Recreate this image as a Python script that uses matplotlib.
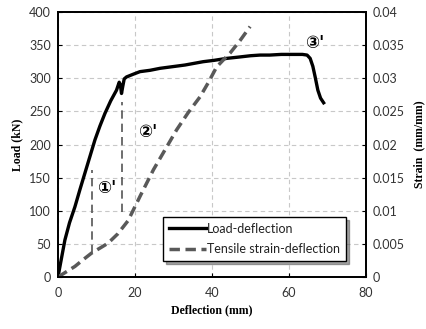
import matplotlib
matplotlib.use("Agg")
import matplotlib.pyplot as plt

# Load-deflection curve (left axis, kN)
load_defl = [0, 0.8, 1.8, 3.0, 4.4, 5.7, 7.0, 8.3, 9.6, 10.9, 12.2, 13.7, 15.2, 15.9,
             16.2, 16.5, 16.8, 17.2, 17.8, 19.5, 21.3, 23.9, 26.5, 29.1, 33.0, 37.7,
             40.5, 43.8, 47.0, 50.0, 52.5, 55.0, 58.0, 61.0, 63.5, 64.7, 65.5,
             66.2, 66.8, 67.5, 68.2, 69.0]
load_kn = [0, 25, 56, 82, 106, 132, 157, 182, 207, 228, 247, 266, 282, 294,
           290, 277, 287, 299, 302, 306, 310, 312, 315, 317, 320, 325,
           327, 330, 332, 334, 335, 335, 336, 336, 336, 335, 330,
           318, 302, 282, 270, 263]

# Tensile strain-deflection curve (right axis, mm/mm)
strain_defl = [0, 2.2, 4.4, 6.5, 8.7, 11.0, 13.0, 15.5, 18.2, 21.5, 24.8, 27.8,
               30.8, 33.8, 36.9, 39.0, 41.2, 43.0, 44.7, 47.3, 49.9]
strain = [0, 0.0008, 0.0016, 0.0026, 0.0036, 0.0044, 0.0051, 0.0065, 0.0085,
          0.0124, 0.0162, 0.0192, 0.0222, 0.0248, 0.0272, 0.0293, 0.0317,
          0.0328, 0.0338, 0.0357, 0.0378]

# Guide lines for stages (deflection, load from, load to)
guide_x = [8.9, 16.5]
guide_top = [161, 264]
guide_bot = [36, 98]

labels = ["\u2460'", "\u2461'", "\u2462'"]
label_x = [12.7, 23.3, 66.6]
label_y = [134, 219, 353]

fig = plt.figure(figsize=(4.27, 3.29), dpi=100)
ax = fig.add_axes([0.1358, 0.158, 0.7213, 0.8055])
ax2 = ax.twinx()

tick_font = "Lato"
lab_font = "Liberation Serif"

ax.grid(True, color="#c8c8c8", linestyle=(0, (4, 3)), linewidth=0.8)
ax.set_axisbelow(True)

for gx, gt, gb in zip(guide_x, guide_top, guide_bot):
    ax.plot([gx, gx], [gb, gt], color="#555555", linestyle=(0, (5, 3)), linewidth=1.2)

ln1, = ax.plot(load_defl, load_kn, color="black", linewidth=2.4, solid_joinstyle="round",
               label="Load-deflection")
ln2, = ax2.plot(strain_defl, strain, color="#595959", linewidth=2.5,
                linestyle=(0, (3.0, 1.6)), label="Tensile strain-deflection")

for t, lx, ly in zip(labels, label_x, label_y):
    ax.text(lx, ly, t, fontsize=12, fontweight="bold", family=["DejaVu Sans"],
            ha="center", va="center")

ax.set_xlim(0, 80)
ax.set_ylim(0, 400)
ax2.set_ylim(0, 0.04)
ax.set_xticks([0, 20, 40, 60, 80])
ax.set_yticks(range(0, 401, 50))
ax2.set_yticks([0, 0.005, 0.01, 0.015, 0.02, 0.025, 0.03, 0.035, 0.04])
ax2.set_yticklabels(["0", "0.005", "0.01", "0.015", "0.02", "0.025", "0.03", "0.035", "0.04"])

for a in (ax, ax2):
    for s in a.spines.values():
        s.set_linewidth(1.3)
    a.tick_params(direction="in", length=3, width=0.8, labelsize=9, pad=5)
    for lb in a.get_xticklabels() + a.get_yticklabels():
        lb.set_fontfamily(tick_font)
        lb.set_color("#333333")
ax.tick_params(axis="x", pad=7)

ax.set_xlabel("Deflection (mm)", fontsize=8.5, fontweight="bold", family=lab_font, labelpad=4)
ax.set_ylabel("Load (kN)", fontsize=8.5, fontweight="bold", family=lab_font, labelpad=4)
ax2.set_ylabel("Strain  (mm/mm)", fontsize=8.5, fontweight="bold", family=lab_font, labelpad=6)

leg = ax.legend(handles=[ln1, ln2], loc="lower right", bbox_to_anchor=(0.935, 0.06),
                fancybox=False, shadow=True, framealpha=1, edgecolor="black",
                prop={"family": tick_font, "size": 9}, handlelength=3.0, handletextpad=0.1,
                borderpad=0.45, labelspacing=0.7, borderaxespad=0)
leg.get_frame().set_linewidth(1.0)
for t in leg.get_texts():
    t.set_color("#222222")

fig.savefig("out.png", dpi=100)
